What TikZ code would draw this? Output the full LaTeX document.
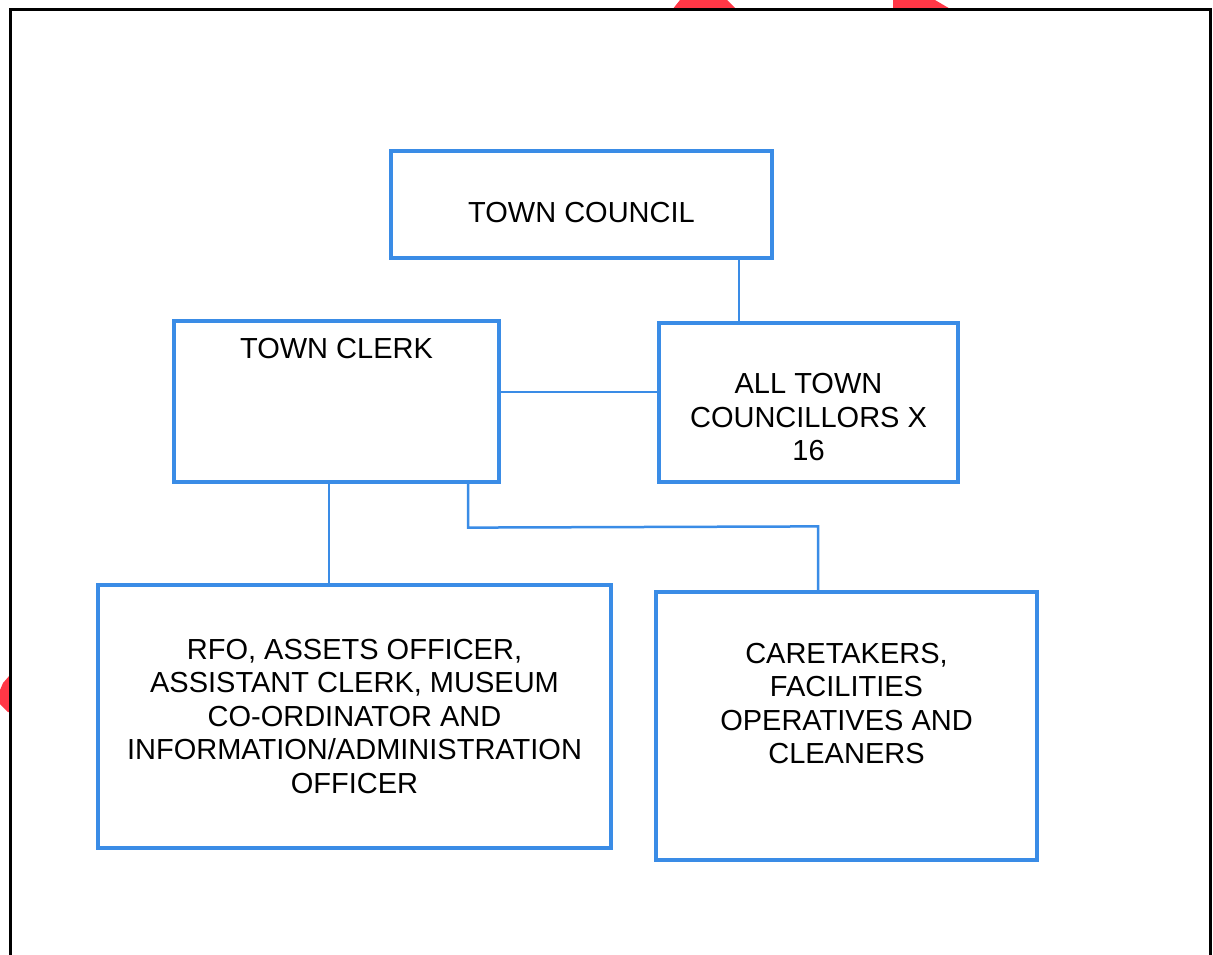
\documentclass[tikz,border=0pt]{standalone}
\usepackage{fontspec}
\setmainfont{Liberation Sans}
\definecolor{boxblue}{RGB}{58,140,230}
\definecolor{markred}{RGB}{255,55,70}
\tikzset{
  orgbox/.style={draw=boxblue, line width=3.2pt, rectangle, inner sep=0pt},
  txt/.style={font=\fontsize{29}{33.5}\selectfont, align=center, inner sep=0pt, text=black},
  conn/.style={draw=boxblue, line width=2.5pt},
  frame/.style={draw=black, line width=3pt}
}
\begin{document}
\begin{tikzpicture}[x=1pt,y=-1pt]
\useasboundingbox (0,0) rectangle (1213,955);
% red marks
\fill[markred] (672,10) -- (680,0) -- (727,0) -- (737,10) -- cycle;
\fill[markred] (893,0) -- (935,0) -- (952,10) -- (893,10) -- cycle;
\fill[markred] (10,675) -- (3,683) -- (0,690) -- (0,704) -- (8,712) -- (10,712) -- cycle;
% frame
\draw[frame] (10,955) -- (10,10) -- (1210,10) -- (1210,955);
% boxes
\node[orgbox, minimum width=381pt, minimum height=107pt,
  label={[txt, yshift=-8pt]center:TOWN COUNCIL}] (council) at (581.5,204.5) {};
\node[orgbox, minimum width=325pt, minimum height=161pt,
  label={[txt, yshift=-40pt]north:TOWN CLERK}] (clerk) at (336.5,401.5) {};
\node[orgbox, minimum width=299pt, minimum height=159pt,
  label={[txt, yshift=-15pt]center:ALL TOWN\\COUNCILLORS X\\16}] (all) at (808.5,402.5) {};
\node[orgbox, minimum width=513pt, minimum height=263pt,
  label={[txt]center:RFO, ASSETS OFFICER,\\ASSISTANT CLERK, MUSEUM\\CO-ORDINATOR AND\\INFORMATION/ADMINISTRATION\\OFFICER}] (rfo) at (354.5,716.5) {};
\node[orgbox, minimum width=381pt, minimum height=268pt,
  label={[txt, yshift=22.5pt]center:CARETAKERS,\\FACILITIES\\OPERATIVES AND\\CLEANERS}] (care) at (846.5,726) {};
% connectors
\draw[conn] ([xshift=157.5pt]council.south) coordinate (c1) -- (c1 |- all.north);
\draw[conn] ([yshift=9.5pt]clerk.east) coordinate (c2) -- (c2 -| all.west);
\draw[conn] ([xshift=-7.5pt]clerk.south) coordinate (c3) -- (c3 |- rfo.north);
\draw[conn] ([xshift=131.5pt]clerk.south) coordinate (c4) -- ++(0,44) coordinate (c5)
  -- ([xshift=-28.5pt,yshift=64pt]care.north) coordinate (c6) -- (c6 |- care.north);
\end{tikzpicture}
\end{document}
